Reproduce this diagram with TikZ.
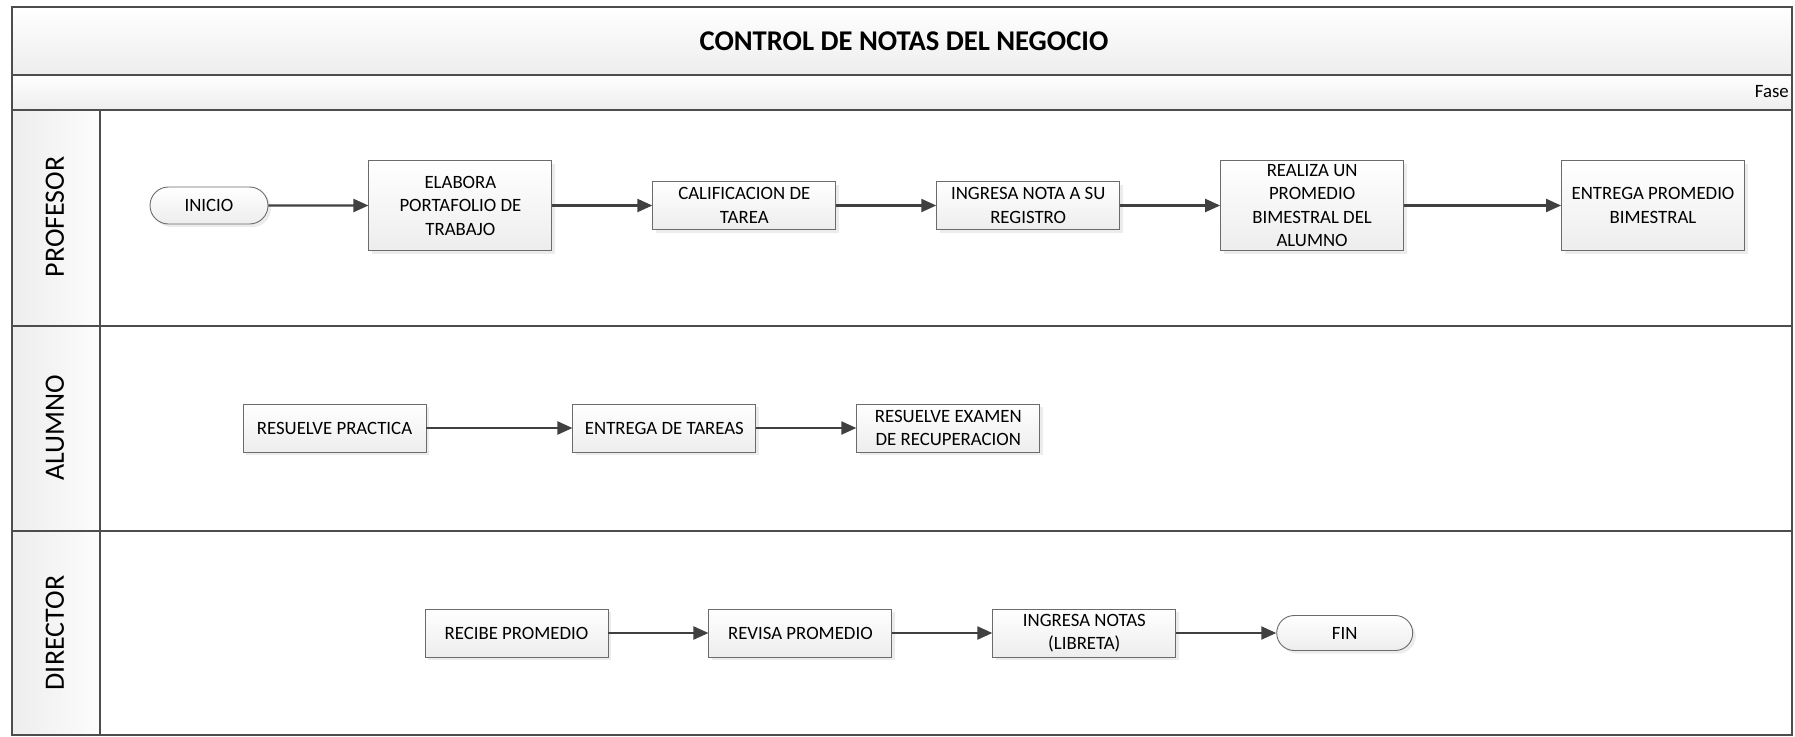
\documentclass[tikz,border=0pt]{standalone}
\usepackage{fontspec}
\setmainfont{Carlito}
\usetikzlibrary{arrows.meta,positioning,shapes.misc,shadows}
\definecolor{lnG}{HTML}{4D4D4D}
\definecolor{bxG}{HTML}{6B6B6B}
\definecolor{arG}{HTML}{404040}

\begin{document}
\begin{tikzpicture}[x=1pt,y=-1pt,node distance=100pt,
  act/.style={rectangle,draw=bxG,line width=0.9pt,top color=white,bottom color=black!7,
    minimum width=183pt,minimum height=48pt,inner sep=0pt,align=center,
    font=\fontsize{18.8}{23.5}\selectfont,
    drop shadow={shadow xshift=3pt,shadow yshift=-3pt,fill=black!15}},
  tall/.style={act,minimum height=90pt},
  term/.style={act,rounded rectangle,minimum width=118pt,minimum height=37pt},
  flw/.style={draw=arG,line width=2.2pt,-{Triangle[length=15pt,width=13pt]}},
  lane/.style={draw=lnG,line width=1.6pt},
  lanetxt/.style={rotate=90,font=\fontsize{28}{32}\selectfont}]
\useasboundingbox (0,0) rectangle (1795,736);
% bandas y carriles
\shade[top color=white,bottom color=black!7] (12,7) rectangle (1792,75);
\shade[top color=white,bottom color=black!7] (12,75) rectangle (1792,110);
\shade[left color=black!7,right color=black!1] (12,110) rectangle (100,735);
\draw[lane] (12,7) rectangle (1792,735);
\draw[lane] (12,75) -- (1792,75);
\draw[lane] (12,110) -- (1792,110);
\draw[lane] (12,326) -- (1792,326);
\draw[lane] (12,531) -- (1792,531);
\draw[lane] (100,110) -- (100,735);
\node[font=\bfseries\fontsize{28.6}{33}\selectfont] (titulo) at (904,41) {CONTROL DE NOTAS DEL NEGOCIO};
\node[anchor=east,inner sep=0pt,font=\fontsize{18.8}{23.5}\selectfont] (fase) at (1789,92) {Fase};
\node[lanetxt] (lprof) at (55,217) {PROFESOR};
\node[lanetxt] (lalum) at (55,428) {ALUMNO};
\node[lanetxt] (ldir) at (55,633) {DIRECTOR};
% profesor
\node[term] (inicio) at (209,205.5) {INICIO};
\node[tall,right=of inicio] (elabora) {ELABORA\\PORTAFOLIO DE\\TRABAJO};
\node[act,right=of elabora] (califica) {CALIFICACION DE\\TAREA};
\node[act,right=of califica] (ingnota) {INGRESA NOTA A SU\\REGISTRO};
\node[tall,right=of ingnota] (promedio) {REALIZA UN\\PROMEDIO\\BIMESTRAL DEL\\ALUMNO};
\node[tall,right=157pt of promedio] (entprom) {ENTREGA PROMEDIO\\BIMESTRAL};
% alumno
\node[act] (practica) at (334.5,428) {RESUELVE PRACTICA};
\node[act,right=146pt of practica] (tareas) {ENTREGA DE TAREAS};
\node[act,right=of tareas] (examen) {RESUELVE EXAMEN\\DE RECUPERACION};
% director
\node[act] (recibe) at (516.5,633) {RECIBE PROMEDIO};
\node[act,right=of recibe] (revisa) {REVISA PROMEDIO};
\node[act,right=of revisa] (libreta) {INGRESA NOTAS\\(LIBRETA)};
\node[term,minimum width=136pt,minimum height=35pt,right=of libreta] (fin) {FIN};
\draw[flw] (inicio) -- (elabora);
\draw[flw] (elabora) -- (califica);
\draw[flw] (califica) -- (ingnota);
\draw[flw] (ingnota) -- (promedio);
\draw[flw] (promedio) -- (entprom);
\draw[flw] (practica) -- (tareas);
\draw[flw] (tareas) -- (examen);
\draw[flw] (recibe) -- (revisa);
\draw[flw] (revisa) -- (libreta);
\draw[flw] (libreta) -- (fin);
\end{tikzpicture}
\end{document}
